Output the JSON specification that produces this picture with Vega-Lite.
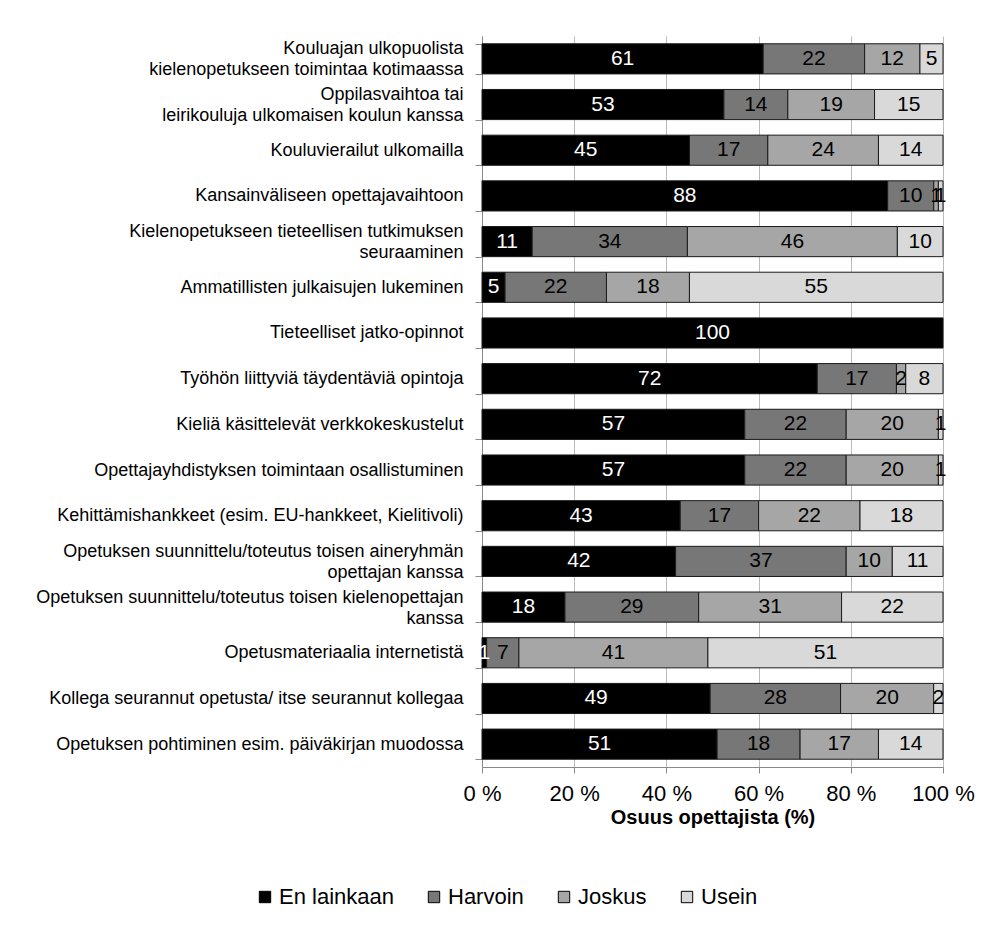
{
  "$schema": "https://vega.github.io/schema/vega-lite/v6.json",
  "width": 461,
  "height": 731,
  "autosize": {"type": "none"},
  "padding": {"left": 482, "top": 36, "right": 60, "bottom": 160},
  "background": "white",
  "config": {
    "font": "Liberation Sans",
    "view": {"stroke": null}
  },
  "data": {
    "values": [
      {"cat": "Kouluajan ulkopuolista|kielenopetukseen toimintaa kotimaassa", "resp": "En lainkaan", "v": 61},
      {"cat": "Kouluajan ulkopuolista|kielenopetukseen toimintaa kotimaassa", "resp": "Harvoin", "v": 22},
      {"cat": "Kouluajan ulkopuolista|kielenopetukseen toimintaa kotimaassa", "resp": "Joskus", "v": 12},
      {"cat": "Kouluajan ulkopuolista|kielenopetukseen toimintaa kotimaassa", "resp": "Usein", "v": 5},
      {"cat": "Oppilasvaihtoa tai|leirikouluja ulkomaisen koulun kanssa", "resp": "En lainkaan", "v": 53},
      {"cat": "Oppilasvaihtoa tai|leirikouluja ulkomaisen koulun kanssa", "resp": "Harvoin", "v": 14},
      {"cat": "Oppilasvaihtoa tai|leirikouluja ulkomaisen koulun kanssa", "resp": "Joskus", "v": 19},
      {"cat": "Oppilasvaihtoa tai|leirikouluja ulkomaisen koulun kanssa", "resp": "Usein", "v": 15},
      {"cat": "Kouluvierailut ulkomailla", "resp": "En lainkaan", "v": 45},
      {"cat": "Kouluvierailut ulkomailla", "resp": "Harvoin", "v": 17},
      {"cat": "Kouluvierailut ulkomailla", "resp": "Joskus", "v": 24},
      {"cat": "Kouluvierailut ulkomailla", "resp": "Usein", "v": 14},
      {"cat": "Kansainväliseen opettajavaihtoon", "resp": "En lainkaan", "v": 88},
      {"cat": "Kansainväliseen opettajavaihtoon", "resp": "Harvoin", "v": 10},
      {"cat": "Kansainväliseen opettajavaihtoon", "resp": "Joskus", "v": 1},
      {"cat": "Kansainväliseen opettajavaihtoon", "resp": "Usein", "v": 1},
      {"cat": "Kielenopetukseen tieteellisen tutkimuksen|seuraaminen", "resp": "En lainkaan", "v": 11},
      {"cat": "Kielenopetukseen tieteellisen tutkimuksen|seuraaminen", "resp": "Harvoin", "v": 34},
      {"cat": "Kielenopetukseen tieteellisen tutkimuksen|seuraaminen", "resp": "Joskus", "v": 46},
      {"cat": "Kielenopetukseen tieteellisen tutkimuksen|seuraaminen", "resp": "Usein", "v": 10},
      {"cat": "Ammatillisten julkaisujen lukeminen", "resp": "En lainkaan", "v": 5},
      {"cat": "Ammatillisten julkaisujen lukeminen", "resp": "Harvoin", "v": 22},
      {"cat": "Ammatillisten julkaisujen lukeminen", "resp": "Joskus", "v": 18},
      {"cat": "Ammatillisten julkaisujen lukeminen", "resp": "Usein", "v": 55},
      {"cat": "Tieteelliset jatko-opinnot", "resp": "En lainkaan", "v": 100},
      {"cat": "Työhön liittyviä täydentäviä opintoja", "resp": "En lainkaan", "v": 72},
      {"cat": "Työhön liittyviä täydentäviä opintoja", "resp": "Harvoin", "v": 17},
      {"cat": "Työhön liittyviä täydentäviä opintoja", "resp": "Joskus", "v": 2},
      {"cat": "Työhön liittyviä täydentäviä opintoja", "resp": "Usein", "v": 8},
      {"cat": "Kieliä käsittelevät verkkokeskustelut", "resp": "En lainkaan", "v": 57},
      {"cat": "Kieliä käsittelevät verkkokeskustelut", "resp": "Harvoin", "v": 22},
      {"cat": "Kieliä käsittelevät verkkokeskustelut", "resp": "Joskus", "v": 20},
      {"cat": "Kieliä käsittelevät verkkokeskustelut", "resp": "Usein", "v": 1},
      {"cat": "Opettajayhdistyksen toimintaan osallistuminen", "resp": "En lainkaan", "v": 57},
      {"cat": "Opettajayhdistyksen toimintaan osallistuminen", "resp": "Harvoin", "v": 22},
      {"cat": "Opettajayhdistyksen toimintaan osallistuminen", "resp": "Joskus", "v": 20},
      {"cat": "Opettajayhdistyksen toimintaan osallistuminen", "resp": "Usein", "v": 1},
      {"cat": "Kehittämishankkeet (esim. EU-hankkeet, Kielitivoli)", "resp": "En lainkaan", "v": 43},
      {"cat": "Kehittämishankkeet (esim. EU-hankkeet, Kielitivoli)", "resp": "Harvoin", "v": 17},
      {"cat": "Kehittämishankkeet (esim. EU-hankkeet, Kielitivoli)", "resp": "Joskus", "v": 22},
      {"cat": "Kehittämishankkeet (esim. EU-hankkeet, Kielitivoli)", "resp": "Usein", "v": 18},
      {"cat": "Opetuksen suunnittelu/toteutus toisen aineryhmän|opettajan kanssa", "resp": "En lainkaan", "v": 42},
      {"cat": "Opetuksen suunnittelu/toteutus toisen aineryhmän|opettajan kanssa", "resp": "Harvoin", "v": 37},
      {"cat": "Opetuksen suunnittelu/toteutus toisen aineryhmän|opettajan kanssa", "resp": "Joskus", "v": 10},
      {"cat": "Opetuksen suunnittelu/toteutus toisen aineryhmän|opettajan kanssa", "resp": "Usein", "v": 11},
      {"cat": "Opetuksen suunnittelu/toteutus toisen kielenopettajan|kanssa", "resp": "En lainkaan", "v": 18},
      {"cat": "Opetuksen suunnittelu/toteutus toisen kielenopettajan|kanssa", "resp": "Harvoin", "v": 29},
      {"cat": "Opetuksen suunnittelu/toteutus toisen kielenopettajan|kanssa", "resp": "Joskus", "v": 31},
      {"cat": "Opetuksen suunnittelu/toteutus toisen kielenopettajan|kanssa", "resp": "Usein", "v": 22},
      {"cat": "Opetusmateriaalia internetistä", "resp": "En lainkaan", "v": 1},
      {"cat": "Opetusmateriaalia internetistä", "resp": "Harvoin", "v": 7},
      {"cat": "Opetusmateriaalia internetistä", "resp": "Joskus", "v": 41},
      {"cat": "Opetusmateriaalia internetistä", "resp": "Usein", "v": 51},
      {"cat": "Kollega seurannut opetusta/ itse seurannut kollegaa", "resp": "En lainkaan", "v": 49},
      {"cat": "Kollega seurannut opetusta/ itse seurannut kollegaa", "resp": "Harvoin", "v": 28},
      {"cat": "Kollega seurannut opetusta/ itse seurannut kollegaa", "resp": "Joskus", "v": 20},
      {"cat": "Kollega seurannut opetusta/ itse seurannut kollegaa", "resp": "Usein", "v": 2},
      {"cat": "Opetuksen pohtiminen esim. päiväkirjan muodossa", "resp": "En lainkaan", "v": 51},
      {"cat": "Opetuksen pohtiminen esim. päiväkirjan muodossa", "resp": "Harvoin", "v": 18},
      {"cat": "Opetuksen pohtiminen esim. päiväkirjan muodossa", "resp": "Joskus", "v": 17},
      {"cat": "Opetuksen pohtiminen esim. päiväkirjan muodossa", "resp": "Usein", "v": 14}
    ]
  },
  "transform": [
    {"stack": "v", "groupby": ["cat"], "sort": [{"field": "resp", "order": "ascending"}], "as": ["s0", "s1"], "offset": "normalize"},
    {"calculate": "(datum.s0 + datum.s1) / 2", "as": "mid"}
  ],
  "encoding": {
    "y": {
      "field": "cat",
      "type": "nominal",
      "sort": null,
      "scale": {"paddingInner": 0.34, "paddingOuter": 0.17},
      "axis": {
        "title": null,
        "labelExpr": "split(datum.label, '|')",
        "labelFontSize": 18,
        "labelLineHeight": 21,
        "labelColor": "#000",
        "labelPadding": 12,
        "labelLimit": 480,
        "labelOffset": {"condition": {"test": "isString(datum.value) && indexof(datum.value, '|') >= 0", "value": -10}, "value": 0},
        "tickBand": "extent",
        "tickSize": 7,
        "tickColor": "#888",
        "domainColor": "#888",
        "grid": false
      }
    }
  },
  "layer": [
    {
      "mark": {"type": "bar", "stroke": "#1a1a1a", "strokeWidth": 1},
      "encoding": {
        "x": {
          "field": "s0",
          "type": "quantitative",
          "scale": {"domain": [0, 1]},
          "axis": {
            "title": "Osuus opettajista (%)",
            "titleFontSize": 20,
            "titleFontWeight": "bold",
            "titleColor": "#000",
            "titlePadding": 3,
            "values": [0, 0.2, 0.4, 0.6, 0.8, 1],
            "labelExpr": "round(datum.value * 100) + ' %'",
            "labelFontSize": 22,
            "labelColor": "#000",
            "labelPadding": 10,
            "labelFlush": false,
            "tickSize": 6,
            "tickColor": "#888",
            "domainColor": "#888",
            "grid": true,
            "gridColor": "#bbb"
          }
        },
        "x2": {"field": "s1"},
        "fill": {
          "field": "resp",
          "type": "nominal",
          "scale": {"domain": ["En lainkaan", "Harvoin", "Joskus", "Usein"], "range": ["#000000", "#777777", "#a6a6a6", "#d9d9d9"]},
          "legend": {
            "title": null,
            "orient": "none",
            "legendX": -228,
            "legendY": 850,
            "direction": "horizontal",
            "columns": 4,
            "columnPadding": 29,
            "symbolType": "square",
            "symbolSize": 130,
            "symbolStrokeColor": "#000",
            "symbolStrokeWidth": 1,
            "labelFontSize": 22,
            "labelColor": "#000",
            "labelOffset": 3
          }
        }
      }
    },
    {
      "mark": {"type": "text", "fontSize": 21, "baseline": "middle", "align": "center"},
      "encoding": {
        "x": {"field": "mid", "type": "quantitative"},
        "text": {"field": "v", "type": "quantitative"},
        "color": {
          "condition": {"test": "datum.resp === 'En lainkaan'", "value": "#ffffff"},
          "value": "#000000"
        }
      }
    }
  ]
}
